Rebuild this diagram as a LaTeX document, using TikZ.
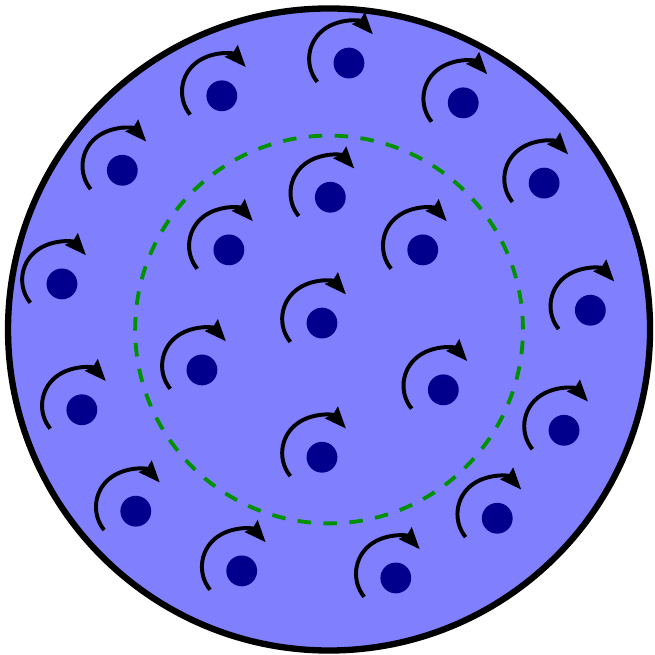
\documentclass[tikz,border=0pt]{standalone}
\usetikzlibrary{arrows.meta}

\definecolor{disk}{RGB}{128,128,255}
\definecolor{atomblue}{RGB}{0,0,140}
\definecolor{guide}{RGB}{0,145,0}

\tikzstyle{atom} = [circle, fill=atomblue, minimum size=0.48cm, inner sep=0pt]
\tikzstyle{spin} = [line width=1.75pt, -{Stealth[length=9.5pt,width=7.5pt,inset=1pt]}]
\tikzstyle{rim}  = [line width=2.8pt, fill=disk]
\tikzstyle{core} = [guide, line width=1.7pt, dash pattern=on 6pt off 5.5pt]

\begin{document}
\begin{tikzpicture}
\useasboundingbox (-5.125,-5.07) rectangle (5.062,5.132);

% sample and inner region
\draw[rim] (0,0) circle (5);
\draw[core] (0,0) circle (3.02);

% nuclei
\node[atom] (p1)  at (0.31,4.15) {};
\node[atom] (p2)  at (-1.67,3.64) {};
\node[atom] (p3)  at (2.09,3.53) {};
\node[atom] (p4)  at (-3.22,2.48) {};
\node[atom] (p5)  at (0.02,2.06) {};
\node[atom] (p6)  at (3.35,2.28) {};
\node[atom] (p7)  at (-1.56,1.24) {};
\node[atom] (p8)  at (1.46,1.24) {};
\node[atom] (p9)  at (-4.16,0.71) {};
\node[atom] (p10) at (4.07,0.30) {};
\node[atom] (p11) at (-0.11,0.10) {};
\node[atom] (p12) at (-1.98,-0.63) {};
\node[atom] (p13) at (1.78,-0.94) {};
\node[atom] (p14) at (-3.85,-1.25) {};
\node[atom] (p15) at (3.66,-1.57) {};
\node[atom] (p16) at (-0.11,-1.99) {};
\node[atom] (p17) at (-3.01,-2.83) {};
\node[atom] (p18) at (2.62,-2.94) {};
\node[atom] (p19) at (-1.36,-3.76) {};
\node[atom] (p20) at (1.04,-3.87) {};

% spin arrows
\foreach \i in {1,...,20}
    \draw[spin] ([shift={(-0.05,0.065)}]p\i.center) ++(219:0.57)
        arc[start angle=219, end angle=42, radius=0.57];
\end{tikzpicture}
\end{document}
